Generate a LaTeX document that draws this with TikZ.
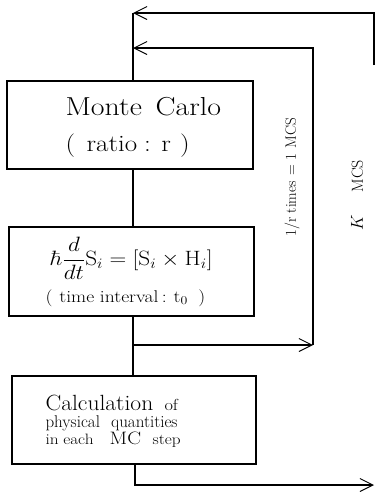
\documentclass[tikz,border=0pt]{standalone}
\usepackage{amsmath}
\usepackage{graphicx}
\usetikzlibrary{arrows.meta}
\newcommand{\widetxt}[1]{\scalebox{1.15}[1]{#1}}
\begin{document}
\begin{tikzpicture}[x=1pt,y=-1pt,
  line width=1.1pt,
  >={Straight Barb[length=13pt,width=13pt,line width=1pt]},
  box/.style={draw,rectangle,inner sep=0pt,line width=1.1pt},
  lbl/.style={inner sep=0pt,anchor=base west}]
\useasboundingbox (0,0) rectangle (375,496);
% boxes
\node[box,minimum width=246pt,minimum height=88pt] (b1) at (130,125) {};
\node[box,minimum width=245pt,minimum height=89pt] (b2) at (131.5,271.5) {};
\node[box,minimum width=244pt,minimum height=88pt] (b3) at (134,420) {};
% texts box 1
\node[lbl] (t11) at (65,115) {\widetxt{\fontsize{26}{26}\selectfont Monte\hspace{12pt}Carlo}};
\node[lbl] (t12) at (65,151) {\widetxt{\fontsize{23.5}{23.5}\selectfont (\hspace{10pt}ratio\hspace{6pt}:\hspace{9pt}r\hspace{8pt})}};
% texts box 2
\node[inner sep=0pt] (t21) at (131.5,258) {\scalebox{1.12}[1]{\fontsize{21}{21}\selectfont $\displaystyle \hbar\frac{d}{dt}\mathrm{S}_i=[\mathrm{S}_i\times\mathrm{H}_i]$}};
\node[lbl] (t22) at (45,302) {\widetxt{\fontsize{17}{17}\selectfont (\hspace{6pt}time\hspace{5pt}interval\hspace{3pt}:\hspace{6pt}t$_0$\hspace{9pt})}};
% texts box 3
\node[lbl] (t31) at (45,410) {\scalebox{1.07}[1]{\fontsize{22}{22}\selectfont Calculation}};
\node[lbl] (t32) at (164,410) {\widetxt{\fontsize{16}{16}\selectfont of}};
\node[lbl] (t33) at (45,427) {\fontsize{17}{17}\selectfont physical\hspace{11pt}quantities};
\node[lbl] (t34) at (45,444) {\widetxt{\fontsize{15}{15}\selectfont in\hspace{4pt}each\hspace{14pt}{\fontsize{18}{18}\selectfont MC}\hspace{10pt}step}};
% rotated labels
\node[inner sep=0pt,rotate=90] (l1) at (292,177) {\fontsize{15}{15}\selectfont 1/r\hspace{4pt}times\hspace{5pt}=\hspace{5pt}1\hspace{5pt}MCS};
\node[inner sep=0pt,rotate=90] (l2) at (357,195) {\fontsize{16}{16}\selectfont $K$\hspace{22pt}MCS};
% loop coordinates
\coordinate (oTL) at (133,13);
\coordinate (oTR) at (374,13);
\coordinate (oEnd) at (374,65);
\coordinate (iTL) at (133,48);
\coordinate (iTR) at (313,48);
\coordinate (iBR) at (313,345);
\coordinate (iBL) at (133,345);
\coordinate (bBL) at (135,485);
\coordinate (bBR) at (374,485);
% connectors
\draw[->] (oEnd) -- (oTR) -- (oTL);
\draw[->] (iBR) -- (iTR) -- (iTL);
\draw (oTL) -- (b1.north -| oTL);
\draw (b1.south -| oTL) -- (b2.north -| oTL);
\draw (b2.south -| oTL) -- (b3.north -| oTL);
\draw[->] (iBL) -- (iBR);
\draw[->] (b3.south -| bBL) -- (bBL) -- (bBR);
\end{tikzpicture}
\end{document}
